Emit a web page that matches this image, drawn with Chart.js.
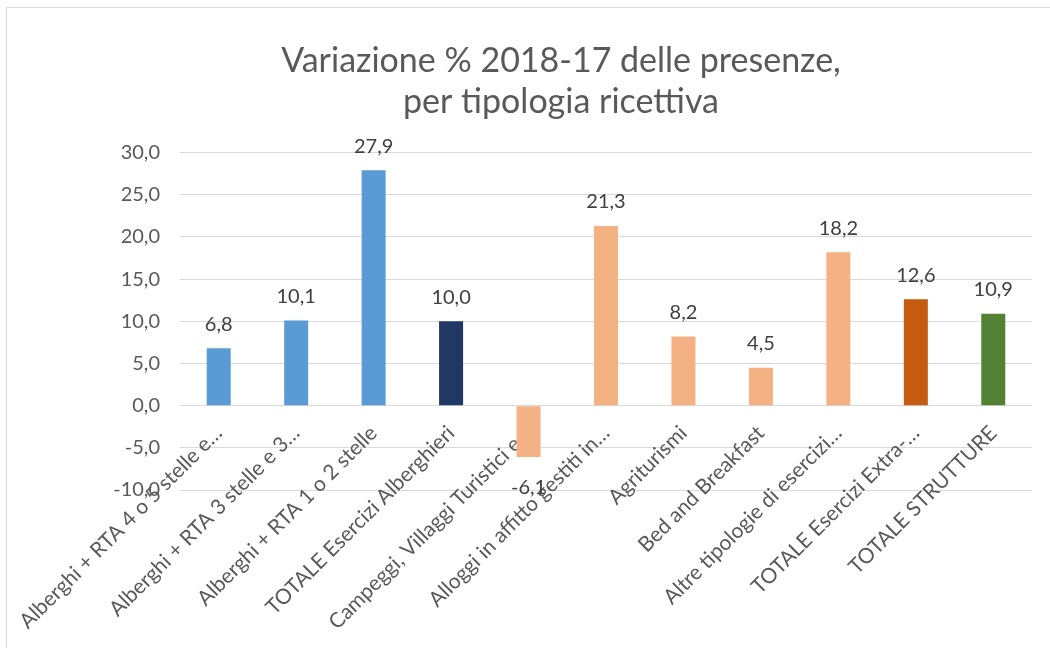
<!DOCTYPE html>
<html>
<head>
<meta charset="utf-8">
<script src="https://cdn.jsdelivr.net/npm/chart.js"></script>
<style>
    html, body { margin: 0; padding: 0; background: #fff; }
    #wrap { position: relative; width: 1050px; height: 648px; }
    #frame { position: absolute; left: 6px; top: 7px; right: -2px; bottom: -2px; border-left: 1px solid #d9d9d9; border-top: 1px solid #d9d9d9; }
    canvas { position: absolute; left: 0; top: 0; }
</style>
</head>
<body>
<div id="wrap">
    <div id="frame"></div>
    <canvas id="chart" width="1050" height="648"></canvas>
</div>
<script>
const titleLines = ['Variazione % 2018-17 delle presenze,', 'per tipologia ricettiva']

const categories = [
    'Alberghi + RTA 4 o 5 stelle e…',
    'Alberghi + RTA 3 stelle e 3…',
    'Alberghi + RTA 1 o 2 stelle',
    'TOTALE Esercizi Alberghieri',
    'Campeggi, Villaggi Turistici e…',
    'Alloggi in affitto gestiti in…',
    'Agriturismi',
    'Bed and Breakfast',
    'Altre tipologie di esercizi…',
    'TOTALE Esercizi Extra-…',
    'TOTALE STRUTTURE'
]

const variation = [6.8, 10.1, 27.9, 10.0, -6.1, 21.3, 8.2, 4.5, 18.2, 12.6, 10.9]

const barColors = [
    '#5b9bd5', '#5b9bd5', '#5b9bd5', '#203864',
    '#f4b183', '#f4b183', '#f4b183', '#f4b183', '#f4b183',
    '#c55a11', '#548235'
]

const yMin = -10
const yMax = 30
const yStep = 5

const fontFamily = 'Lato, "Open Sans", sans-serif'

function fmt(v) {
    return v.toFixed(1).replace('.', ',')
}

// labels above (or below, for negatives) each bar
const valueLabels = {
    id: 'valueLabels',
    afterDatasetsDraw(chart) {
        const ctx = chart.ctx
        const meta = chart.getDatasetMeta(0)
        ctx.save()
        ctx.font = '20px ' + fontFamily
        ctx.fillStyle = '#404040'
        ctx.textAlign = 'center'
        ctx.textBaseline = 'middle'
        meta.data.forEach((bar, i) => {
            const v = variation[i]
            const y = v >= 0 ? bar.y - 24 : bar.y + 30
            ctx.fillText(fmt(v), bar.x, y)
        })
        ctx.restore()
    }
}

new Chart(document.getElementById('chart'), {
    type: 'bar',
    data: {
        labels: categories,
        datasets: [{
            data: variation,
            backgroundColor: barColors,
            barPercentage: 0.31,
            categoryPercentage: 1
        }]
    },
    options: {
        responsive: false,
        animation: false,
        layout: { padding: { left: 90, right: 18, top: 0, bottom: 158 } },
        plugins: {
            legend: { display: false },
            tooltip: { enabled: false },
            title: {
                display: true,
                text: titleLines,
                color: '#595959',
                font: { family: fontFamily, size: 34, weight: 'normal', lineHeight: 1.2 },
                padding: { top: 41, bottom: 30 }
            }
        },
        scales: {
            x: {
                position: { y: 0 },
                grid: { display: false },
                border: { display: false },
                ticks: {
                    autoSkip: false,
                    minRotation: 45,
                    maxRotation: 45,
                    padding: 7,
                    color: '#595959',
                    font: { family: fontFamily, size: 21 }
                }
            },
            y: {
                min: yMin,
                max: yMax,
                afterFit(scale) { scale.width = 90 },
                grid: { color: '#d9d9d9', drawTicks: false },
                border: { display: false },
                ticks: {
                    stepSize: yStep,
                    padding: 20,
                    color: '#595959',
                    font: { family: fontFamily, size: 20 },
                    callback: v => fmt(v)
                }
            }
        }
    },
    plugins: [valueLabels]
})
</script>
</body>
</html>
